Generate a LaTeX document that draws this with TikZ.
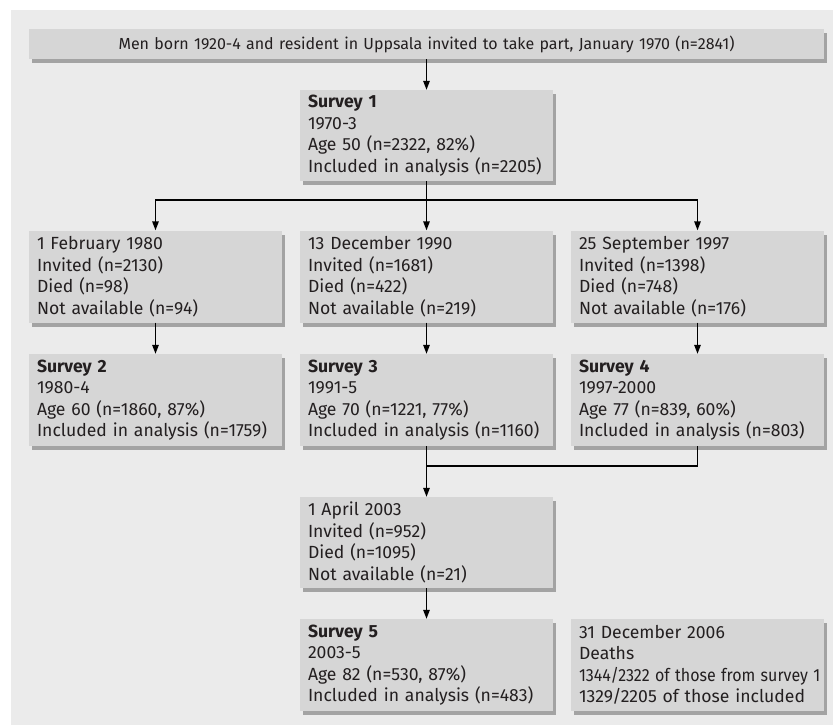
\documentclass[tikz,border=0pt]{standalone}
\usepackage{fontspec}
\usepackage{graphicx}
\setmainfont{Fira Sans}
\usetikzlibrary{shadows,arrows.meta}
\definecolor{bgc}{HTML}{EBEBEB}
\definecolor{boxc}{HTML}{D6D6D6}
\definecolor{shc}{HTML}{A3A3A3}
\definecolor{txtc}{HTML}{231F20}
\tikzset{
  box/.style={rectangle, fill=boxc, text=txtc, inner sep=0pt,
    minimum width=253pt, minimum height=92pt, text width=237pt, align=left,
    font=\fontsize{17.6}{21.5}\selectfont,
    drop shadow={shadow xshift=3pt, shadow yshift=-4pt, fill=shc, opacity=1}},
  wide/.style={box, minimum width=795pt, minimum height=30pt, text width=780pt, align=center,
    font=\fontsize{16}{20}\selectfont},
  conn/.style={line width=1.4pt, draw=black},
  arr/.style={conn, -{Triangle[length=9pt,width=6.5pt]}}
}
\begin{document}
\begin{tikzpicture}[x=1pt,y=-1pt]
\useasboundingbox (0,0) rectangle (833,725);
\fill[bgc] (11,10) rectangle (833,725);
\node[wide] (top) at (426.5,44) {Men born 1920-4 and resident in Uppsala invited to take part, January 1970 (n=2841)};
\node[box, minimum height=91pt] (s1) at (426.5,135.5) {\textbf{Survey 1}\\1970-3\\Age 50 (n=2322, 82\%)\\\mbox{Included in analysis (n=2205)}};
\node[box] (r2a) at (155.5,276.5) {1 February 1980\\Invited (n=2130)\\Died (n=98)\\Not available (n=94)};
\node[box] (r2b) at (426.5,276.5) {13 December 1990\\Invited (n=1681)\\Died (n=422)\\Not available (n=219)};
\node[box] (r2c) at (697.5,276.5) {25 September 1997\\Invited (n=1398)\\Died (n=748)\\Not available (n=176)};
\node[box] (s2) at (155.5,400) {\textbf{Survey 2}\\1980-4\\Age 60 (n=1860, 87\%)\\\mbox{Included in analysis (n=1759)}};
\node[box] (s3) at (426.5,400) {\textbf{Survey 3}\\1991-5\\Age 70 (n=1221, 77\%)\\\mbox{Included in analysis (n=1160)}};
\node[box] (s4) at (697.5,400) {\textbf{Survey 4}\\1997-2000\\Age 77 (n=839, 60\%)\\\mbox{Included in analysis (n=803)}};
\node[box, minimum height=91pt] (apr) at (426.5,542.5) {1 April 2003\\Invited (n=952)\\Died (n=1095)\\Not available (n=21)};
\node[box] (s5) at (426.5,665) {\textbf{Survey 5}\\2003-5\\Age 82 (n=530, 87\%)\\\mbox{Included in analysis (n=483)}};
\node[box] (dth) at (697.5,665) {31 December 2006\\Deaths\\\scalebox{0.91}[1]{1344/2322 of those from survey 1}\\\mbox{1329/2205 of those included}};
\coordinate (bry) at (0,200);
\coordinate (mgy) at (0,466);
\draw[arr] (top) -- (s1);
\draw[conn] (s1.south) -- (s1.south |- bry);
\draw[arr] (s1.south |- bry) -| (r2a.north);
\draw[arr] (s1.south |- bry) -| (r2c.north);
\draw[arr] (s1.south |- bry) -- (r2b.north);
\draw[arr] (r2a) -- (s2);
\draw[arr] (r2b) -- (s3);
\draw[arr] (r2c) -- (s4);
\draw[conn] (s4.south) |- (s3.south |- mgy);
\draw[arr] (s3) -- (apr);
\draw[arr] (apr) -- (s5);
\end{tikzpicture}
\end{document}
